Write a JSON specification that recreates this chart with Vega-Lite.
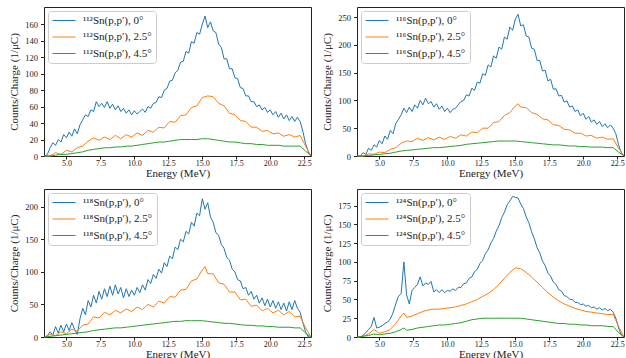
{
"$schema":"https://vega.github.io/schema/vega-lite/v6.json",
"autosize":{"type":"pad"},
"padding":{"left":8,"top":6,"right":1,"bottom":0},
"background":"white",
"config":{
"font":"Liberation Serif",
"view":{"stroke":"#222","strokeWidth":1},
"axis":{"grid":false,"domain":false,"labelFont":"Liberation Serif","labelFontSize":8.5,"labelColor":"#222","titleFont":"Liberation Serif","titleFontSize":11,"titleFontWeight":"normal","titleColor":"#222","tickColor":"#222","tickSize":3.5},
"axisY":{"titlePadding":5,"labelPadding":3},
"axisX":{"titlePadding":0,"labelPadding":0,"tickSize":3,"labelFontSize":8},
"legend":{"orient":"top-left","offset":4,"padding":4,"strokeColor":"#cccccc","fillColor":"white","cornerRadius":3,"symbolType":"M-1,0H3.6","symbolSize":100,"symbolStrokeWidth":1.5,"labelFont":"Liberation Serif","labelFontSize":11,"labelColor":"#222","rowPadding":4.5,"labelOffset":20,"title":null},
"line":{"strokeWidth":1,"clip":true}
},
"datasets":{
"a":[
{"e":3.4,"s":"0°","y":0},{"e":3.6,"s":"0°","y":2},{"e":3.8,"s":"0°","y":10},{"e":4.0,"s":"0°","y":16},{"e":4.2,"s":"0°","y":13},{"e":4.4,"s":"0°","y":20},{"e":4.6,"s":"0°","y":17},{"e":4.8,"s":"0°","y":26},{"e":5.0,"s":"0°","y":22},{"e":5.2,"s":"0°","y":29},{"e":5.4,"s":"0°","y":24},{"e":5.6,"s":"0°","y":33},{"e":5.8,"s":"0°","y":27},{"e":6.0,"s":"0°","y":38},{"e":6.2,"s":"0°","y":44},{"e":6.4,"s":"0°","y":50},{"e":6.6,"s":"0°","y":48},{"e":6.8,"s":"0°","y":56},{"e":7.0,"s":"0°","y":54},{"e":7.2,"s":"0°","y":66},{"e":7.4,"s":"0°","y":60},{"e":7.6,"s":"0°","y":64},{"e":7.8,"s":"0°","y":59},{"e":8.0,"s":"0°","y":66},{"e":8.2,"s":"0°","y":58},{"e":8.4,"s":"0°","y":63},{"e":8.6,"s":"0°","y":56},{"e":8.8,"s":"0°","y":61},{"e":9.0,"s":"0°","y":54},{"e":9.2,"s":"0°","y":58},{"e":9.4,"s":"0°","y":52},{"e":9.6,"s":"0°","y":56},{"e":9.8,"s":"0°","y":50},{"e":10.0,"s":"0°","y":55},{"e":10.2,"s":"0°","y":51},{"e":10.4,"s":"0°","y":54},{"e":10.6,"s":"0°","y":57},{"e":10.8,"s":"0°","y":53},{"e":11.0,"s":"0°","y":60},{"e":11.2,"s":"0°","y":58},{"e":11.4,"s":"0°","y":64},{"e":11.6,"s":"0°","y":65},{"e":11.8,"s":"0°","y":72},{"e":12.0,"s":"0°","y":71},{"e":12.2,"s":"0°","y":80},{"e":12.4,"s":"0°","y":82},{"e":12.6,"s":"0°","y":91},{"e":12.8,"s":"0°","y":92},{"e":13.0,"s":"0°","y":101},{"e":13.2,"s":"0°","y":104},{"e":13.4,"s":"0°","y":114},{"e":13.6,"s":"0°","y":115},{"e":13.8,"s":"0°","y":127},{"e":14.0,"s":"0°","y":125},{"e":14.2,"s":"0°","y":139},{"e":14.4,"s":"0°","y":137},{"e":14.6,"s":"0°","y":150},{"e":14.8,"s":"0°","y":148},{"e":15.0,"s":"0°","y":160},{"e":15.2,"s":"0°","y":170},{"e":15.4,"s":"0°","y":156},{"e":15.6,"s":"0°","y":163},{"e":15.8,"s":"0°","y":152},{"e":16.0,"s":"0°","y":150},{"e":16.2,"s":"0°","y":136},{"e":16.4,"s":"0°","y":132},{"e":16.6,"s":"0°","y":118},{"e":16.8,"s":"0°","y":118},{"e":17.0,"s":"0°","y":106},{"e":17.2,"s":"0°","y":106},{"e":17.4,"s":"0°","y":95},{"e":17.6,"s":"0°","y":94},{"e":17.8,"s":"0°","y":83},{"e":18.0,"s":"0°","y":82},{"e":18.2,"s":"0°","y":73},{"e":18.4,"s":"0°","y":73},{"e":18.6,"s":"0°","y":66},{"e":18.8,"s":"0°","y":66},{"e":19.0,"s":"0°","y":60},{"e":19.2,"s":"0°","y":62},{"e":19.4,"s":"0°","y":56},{"e":19.6,"s":"0°","y":59},{"e":19.8,"s":"0°","y":53},{"e":20.0,"s":"0°","y":56},{"e":20.2,"s":"0°","y":50},{"e":20.4,"s":"0°","y":54},{"e":20.6,"s":"0°","y":47},{"e":20.8,"s":"0°","y":52},{"e":21.0,"s":"0°","y":45},{"e":21.2,"s":"0°","y":50},{"e":21.4,"s":"0°","y":43},{"e":21.6,"s":"0°","y":48},{"e":21.8,"s":"0°","y":42},{"e":22.0,"s":"0°","y":47},{"e":22.2,"s":"0°","y":42},{"e":22.4,"s":"0°","y":30},{"e":22.6,"s":"0°","y":15},{"e":22.8,"s":"0°","y":5},{"e":23.0,"s":"0°","y":0},
{"e":3.4,"s":"2.5°","y":0},{"e":3.8,"s":"2.5°","y":0},{"e":4.2,"s":"2.5°","y":4},{"e":4.6,"s":"2.5°","y":2},{"e":5.0,"s":"2.5°","y":7},{"e":5.4,"s":"2.5°","y":5},{"e":5.8,"s":"2.5°","y":10},{"e":6.2,"s":"2.5°","y":12},{"e":6.6,"s":"2.5°","y":18},{"e":7.0,"s":"2.5°","y":22},{"e":7.4,"s":"2.5°","y":19},{"e":7.8,"s":"2.5°","y":23},{"e":8.2,"s":"2.5°","y":20},{"e":8.6,"s":"2.5°","y":25},{"e":9.0,"s":"2.5°","y":21},{"e":9.4,"s":"2.5°","y":26},{"e":9.8,"s":"2.5°","y":23},{"e":10.2,"s":"2.5°","y":28},{"e":10.6,"s":"2.5°","y":25},{"e":11.0,"s":"2.5°","y":31},{"e":11.4,"s":"2.5°","y":29},{"e":11.8,"s":"2.5°","y":35},{"e":12.2,"s":"2.5°","y":34},{"e":12.6,"s":"2.5°","y":42},{"e":13.0,"s":"2.5°","y":41},{"e":13.4,"s":"2.5°","y":49},{"e":13.8,"s":"2.5°","y":50},{"e":14.2,"s":"2.5°","y":59},{"e":14.6,"s":"2.5°","y":61},{"e":15.0,"s":"2.5°","y":71},{"e":15.4,"s":"2.5°","y":73},{"e":15.8,"s":"2.5°","y":72},{"e":16.2,"s":"2.5°","y":64},{"e":16.6,"s":"2.5°","y":61},{"e":17.0,"s":"2.5°","y":52},{"e":17.4,"s":"2.5°","y":50},{"e":17.8,"s":"2.5°","y":43},{"e":18.2,"s":"2.5°","y":42},{"e":18.6,"s":"2.5°","y":35},{"e":19.0,"s":"2.5°","y":35},{"e":19.4,"s":"2.5°","y":30},{"e":19.8,"s":"2.5°","y":31},{"e":20.2,"s":"2.5°","y":27},{"e":20.6,"s":"2.5°","y":28},{"e":21.0,"s":"2.5°","y":24},{"e":21.4,"s":"2.5°","y":26},{"e":21.8,"s":"2.5°","y":23},{"e":22.2,"s":"2.5°","y":25},{"e":22.6,"s":"2.5°","y":12},{"e":23.0,"s":"2.5°","y":0},
{"e":3.4,"s":"4.5°","y":0},{"e":3.8,"s":"4.5°","y":0},{"e":4.2,"s":"4.5°","y":1},{"e":4.6,"s":"4.5°","y":2},{"e":5.0,"s":"4.5°","y":2},{"e":5.4,"s":"4.5°","y":3},{"e":5.8,"s":"4.5°","y":4},{"e":6.2,"s":"4.5°","y":5},{"e":6.6,"s":"4.5°","y":7},{"e":7.0,"s":"4.5°","y":8},{"e":7.4,"s":"4.5°","y":9},{"e":7.8,"s":"4.5°","y":10},{"e":8.2,"s":"4.5°","y":10},{"e":8.6,"s":"4.5°","y":11},{"e":9.0,"s":"4.5°","y":11},{"e":9.4,"s":"4.5°","y":12},{"e":9.8,"s":"4.5°","y":12},{"e":10.2,"s":"4.5°","y":13},{"e":10.6,"s":"4.5°","y":14},{"e":11.0,"s":"4.5°","y":15},{"e":11.4,"s":"4.5°","y":16},{"e":11.8,"s":"4.5°","y":17},{"e":12.2,"s":"4.5°","y":17},{"e":12.6,"s":"4.5°","y":18},{"e":13.0,"s":"4.5°","y":19},{"e":13.4,"s":"4.5°","y":20},{"e":13.8,"s":"4.5°","y":20},{"e":14.2,"s":"4.5°","y":20},{"e":14.6,"s":"4.5°","y":20},{"e":15.0,"s":"4.5°","y":21},{"e":15.4,"s":"4.5°","y":21},{"e":15.8,"s":"4.5°","y":20},{"e":16.2,"s":"4.5°","y":19},{"e":16.6,"s":"4.5°","y":18},{"e":17.0,"s":"4.5°","y":17},{"e":17.4,"s":"4.5°","y":17},{"e":17.8,"s":"4.5°","y":16},{"e":18.2,"s":"4.5°","y":15},{"e":18.6,"s":"4.5°","y":15},{"e":19.0,"s":"4.5°","y":14},{"e":19.4,"s":"4.5°","y":14},{"e":19.8,"s":"4.5°","y":13},{"e":20.2,"s":"4.5°","y":13},{"e":20.6,"s":"4.5°","y":13},{"e":21.0,"s":"4.5°","y":12},{"e":21.4,"s":"4.5°","y":12},{"e":21.8,"s":"4.5°","y":12},{"e":22.2,"s":"4.5°","y":12},{"e":22.6,"s":"4.5°","y":6},{"e":23.0,"s":"4.5°","y":0}
],
"b":[
{"e":3.4,"s":"0°","y":0},{"e":3.6,"s":"0°","y":0},{"e":3.8,"s":"0°","y":6},{"e":4.0,"s":"0°","y":3},{"e":4.2,"s":"0°","y":14},{"e":4.4,"s":"0°","y":10},{"e":4.6,"s":"0°","y":20},{"e":4.8,"s":"0°","y":16},{"e":5.0,"s":"0°","y":28},{"e":5.2,"s":"0°","y":22},{"e":5.4,"s":"0°","y":36},{"e":5.6,"s":"0°","y":30},{"e":5.8,"s":"0°","y":46},{"e":6.0,"s":"0°","y":40},{"e":6.2,"s":"0°","y":58},{"e":6.4,"s":"0°","y":66},{"e":6.6,"s":"0°","y":74},{"e":6.8,"s":"0°","y":86},{"e":7.0,"s":"0°","y":78},{"e":7.2,"s":"0°","y":88},{"e":7.4,"s":"0°","y":80},{"e":7.6,"s":"0°","y":92},{"e":7.8,"s":"0°","y":86},{"e":8.0,"s":"0°","y":100},{"e":8.2,"s":"0°","y":92},{"e":8.4,"s":"0°","y":104},{"e":8.6,"s":"0°","y":94},{"e":8.8,"s":"0°","y":98},{"e":9.0,"s":"0°","y":88},{"e":9.2,"s":"0°","y":94},{"e":9.4,"s":"0°","y":84},{"e":9.6,"s":"0°","y":90},{"e":9.8,"s":"0°","y":80},{"e":10.0,"s":"0°","y":86},{"e":10.2,"s":"0°","y":78},{"e":10.4,"s":"0°","y":84},{"e":10.6,"s":"0°","y":86},{"e":10.8,"s":"0°","y":92},{"e":11.0,"s":"0°","y":98},{"e":11.2,"s":"0°","y":100},{"e":11.4,"s":"0°","y":110},{"e":11.6,"s":"0°","y":108},{"e":11.8,"s":"0°","y":122},{"e":12.0,"s":"0°","y":118},{"e":12.2,"s":"0°","y":133},{"e":12.4,"s":"0°","y":131},{"e":12.6,"s":"0°","y":148},{"e":12.8,"s":"0°","y":145},{"e":13.0,"s":"0°","y":164},{"e":13.2,"s":"0°","y":160},{"e":13.4,"s":"0°","y":180},{"e":13.6,"s":"0°","y":176},{"e":13.8,"s":"0°","y":196},{"e":14.0,"s":"0°","y":192},{"e":14.2,"s":"0°","y":214},{"e":14.4,"s":"0°","y":210},{"e":14.6,"s":"0°","y":232},{"e":14.8,"s":"0°","y":226},{"e":15.0,"s":"0°","y":246},{"e":15.2,"s":"0°","y":255},{"e":15.4,"s":"0°","y":234},{"e":15.6,"s":"0°","y":236},{"e":15.8,"s":"0°","y":216},{"e":16.0,"s":"0°","y":214},{"e":16.2,"s":"0°","y":194},{"e":16.4,"s":"0°","y":192},{"e":16.6,"s":"0°","y":172},{"e":16.8,"s":"0°","y":172},{"e":17.0,"s":"0°","y":153},{"e":17.2,"s":"0°","y":154},{"e":17.4,"s":"0°","y":135},{"e":17.6,"s":"0°","y":138},{"e":17.8,"s":"0°","y":120},{"e":18.0,"s":"0°","y":121},{"e":18.2,"s":"0°","y":108},{"e":18.4,"s":"0°","y":109},{"e":18.6,"s":"0°","y":97},{"e":18.8,"s":"0°","y":99},{"e":19.0,"s":"0°","y":88},{"e":19.2,"s":"0°","y":90},{"e":19.4,"s":"0°","y":80},{"e":19.6,"s":"0°","y":83},{"e":19.8,"s":"0°","y":72},{"e":20.0,"s":"0°","y":77},{"e":20.2,"s":"0°","y":66},{"e":20.4,"s":"0°","y":71},{"e":20.6,"s":"0°","y":61},{"e":20.8,"s":"0°","y":65},{"e":21.0,"s":"0°","y":57},{"e":21.2,"s":"0°","y":62},{"e":21.4,"s":"0°","y":53},{"e":21.6,"s":"0°","y":58},{"e":21.8,"s":"0°","y":51},{"e":22.0,"s":"0°","y":56},{"e":22.2,"s":"0°","y":50},{"e":22.4,"s":"0°","y":40},{"e":22.6,"s":"0°","y":20},{"e":22.8,"s":"0°","y":6},{"e":23.0,"s":"0°","y":0},
{"e":3.4,"s":"2.5°","y":0},{"e":3.8,"s":"2.5°","y":0},{"e":4.2,"s":"2.5°","y":4},{"e":4.6,"s":"2.5°","y":3},{"e":5.0,"s":"2.5°","y":7},{"e":5.4,"s":"2.5°","y":6},{"e":5.8,"s":"2.5°","y":12},{"e":6.2,"s":"2.5°","y":15},{"e":6.6,"s":"2.5°","y":23},{"e":7.0,"s":"2.5°","y":27},{"e":7.4,"s":"2.5°","y":26},{"e":7.8,"s":"2.5°","y":32},{"e":8.2,"s":"2.5°","y":28},{"e":8.6,"s":"2.5°","y":33},{"e":9.0,"s":"2.5°","y":29},{"e":9.4,"s":"2.5°","y":34},{"e":9.8,"s":"2.5°","y":30},{"e":10.2,"s":"2.5°","y":35},{"e":10.6,"s":"2.5°","y":32},{"e":11.0,"s":"2.5°","y":38},{"e":11.4,"s":"2.5°","y":36},{"e":11.8,"s":"2.5°","y":43},{"e":12.2,"s":"2.5°","y":42},{"e":12.6,"s":"2.5°","y":50},{"e":13.0,"s":"2.5°","y":50},{"e":13.4,"s":"2.5°","y":60},{"e":13.8,"s":"2.5°","y":62},{"e":14.2,"s":"2.5°","y":73},{"e":14.6,"s":"2.5°","y":78},{"e":15.0,"s":"2.5°","y":90},{"e":15.2,"s":"2.5°","y":94},{"e":15.4,"s":"2.5°","y":88},{"e":15.8,"s":"2.5°","y":87},{"e":16.2,"s":"2.5°","y":78},{"e":16.6,"s":"2.5°","y":75},{"e":17.0,"s":"2.5°","y":67},{"e":17.4,"s":"2.5°","y":65},{"e":17.8,"s":"2.5°","y":56},{"e":18.2,"s":"2.5°","y":55},{"e":18.6,"s":"2.5°","y":48},{"e":19.0,"s":"2.5°","y":47},{"e":19.4,"s":"2.5°","y":41},{"e":19.8,"s":"2.5°","y":41},{"e":20.2,"s":"2.5°","y":36},{"e":20.6,"s":"2.5°","y":37},{"e":21.0,"s":"2.5°","y":32},{"e":21.4,"s":"2.5°","y":34},{"e":21.8,"s":"2.5°","y":30},{"e":22.2,"s":"2.5°","y":31},{"e":22.6,"s":"2.5°","y":14},{"e":23.0,"s":"2.5°","y":0},
{"e":3.4,"s":"4.5°","y":0},{"e":3.8,"s":"4.5°","y":0},{"e":4.2,"s":"4.5°","y":1},{"e":4.6,"s":"4.5°","y":2},{"e":5.0,"s":"4.5°","y":3},{"e":5.4,"s":"4.5°","y":4},{"e":5.8,"s":"4.5°","y":5},{"e":6.2,"s":"4.5°","y":7},{"e":6.6,"s":"4.5°","y":9},{"e":7.0,"s":"4.5°","y":10},{"e":7.4,"s":"4.5°","y":11},{"e":7.8,"s":"4.5°","y":12},{"e":8.2,"s":"4.5°","y":13},{"e":8.6,"s":"4.5°","y":14},{"e":9.0,"s":"4.5°","y":15},{"e":9.4,"s":"4.5°","y":15},{"e":9.8,"s":"4.5°","y":16},{"e":10.2,"s":"4.5°","y":17},{"e":10.6,"s":"4.5°","y":18},{"e":11.0,"s":"4.5°","y":19},{"e":11.4,"s":"4.5°","y":21},{"e":11.8,"s":"4.5°","y":22},{"e":12.2,"s":"4.5°","y":23},{"e":12.6,"s":"4.5°","y":24},{"e":13.0,"s":"4.5°","y":25},{"e":13.4,"s":"4.5°","y":26},{"e":13.8,"s":"4.5°","y":27},{"e":14.2,"s":"4.5°","y":27},{"e":14.6,"s":"4.5°","y":27},{"e":15.0,"s":"4.5°","y":27},{"e":15.4,"s":"4.5°","y":26},{"e":15.8,"s":"4.5°","y":25},{"e":16.2,"s":"4.5°","y":24},{"e":16.6,"s":"4.5°","y":23},{"e":17.0,"s":"4.5°","y":22},{"e":17.4,"s":"4.5°","y":21},{"e":17.8,"s":"4.5°","y":20},{"e":18.2,"s":"4.5°","y":20},{"e":18.6,"s":"4.5°","y":19},{"e":19.0,"s":"4.5°","y":18},{"e":19.4,"s":"4.5°","y":18},{"e":19.8,"s":"4.5°","y":17},{"e":20.2,"s":"4.5°","y":17},{"e":20.6,"s":"4.5°","y":16},{"e":21.0,"s":"4.5°","y":16},{"e":21.4,"s":"4.5°","y":16},{"e":21.8,"s":"4.5°","y":15},{"e":22.2,"s":"4.5°","y":15},{"e":22.6,"s":"4.5°","y":7},{"e":23.0,"s":"4.5°","y":0}
],
"c":[
{"e":3.4,"s":"0°","y":0},{"e":3.6,"s":"0°","y":2},{"e":3.8,"s":"0°","y":8},{"e":4.0,"s":"0°","y":3},{"e":4.2,"s":"0°","y":16},{"e":4.4,"s":"0°","y":6},{"e":4.6,"s":"0°","y":18},{"e":4.8,"s":"0°","y":8},{"e":5.0,"s":"0°","y":20},{"e":5.2,"s":"0°","y":10},{"e":5.4,"s":"0°","y":22},{"e":5.6,"s":"0°","y":12},{"e":5.8,"s":"0°","y":4},{"e":6.0,"s":"0°","y":28},{"e":6.2,"s":"0°","y":44},{"e":6.4,"s":"0°","y":34},{"e":6.6,"s":"0°","y":56},{"e":6.8,"s":"0°","y":46},{"e":7.0,"s":"0°","y":64},{"e":7.2,"s":"0°","y":52},{"e":7.4,"s":"0°","y":70},{"e":7.6,"s":"0°","y":58},{"e":7.8,"s":"0°","y":74},{"e":8.0,"s":"0°","y":62},{"e":8.2,"s":"0°","y":78},{"e":8.4,"s":"0°","y":64},{"e":8.6,"s":"0°","y":80},{"e":8.8,"s":"0°","y":66},{"e":9.0,"s":"0°","y":76},{"e":9.2,"s":"0°","y":60},{"e":9.4,"s":"0°","y":74},{"e":9.6,"s":"0°","y":62},{"e":9.8,"s":"0°","y":72},{"e":10.0,"s":"0°","y":64},{"e":10.2,"s":"0°","y":76},{"e":10.4,"s":"0°","y":68},{"e":10.6,"s":"0°","y":80},{"e":10.8,"s":"0°","y":72},{"e":11.0,"s":"0°","y":88},{"e":11.2,"s":"0°","y":82},{"e":11.4,"s":"0°","y":96},{"e":11.6,"s":"0°","y":90},{"e":11.8,"s":"0°","y":104},{"e":12.0,"s":"0°","y":98},{"e":12.2,"s":"0°","y":114},{"e":12.4,"s":"0°","y":108},{"e":12.6,"s":"0°","y":124},{"e":12.8,"s":"0°","y":120},{"e":13.0,"s":"0°","y":138},{"e":13.2,"s":"0°","y":134},{"e":13.4,"s":"0°","y":150},{"e":13.6,"s":"0°","y":146},{"e":13.8,"s":"0°","y":162},{"e":14.0,"s":"0°","y":158},{"e":14.2,"s":"0°","y":176},{"e":14.4,"s":"0°","y":170},{"e":14.6,"s":"0°","y":190},{"e":14.8,"s":"0°","y":186},{"e":15.0,"s":"0°","y":212},{"e":15.2,"s":"0°","y":196},{"e":15.4,"s":"0°","y":206},{"e":15.6,"s":"0°","y":184},{"e":15.8,"s":"0°","y":176},{"e":16.0,"s":"0°","y":160},{"e":16.2,"s":"0°","y":156},{"e":16.4,"s":"0°","y":142},{"e":16.6,"s":"0°","y":136},{"e":16.8,"s":"0°","y":122},{"e":17.0,"s":"0°","y":118},{"e":17.2,"s":"0°","y":104},{"e":17.4,"s":"0°","y":100},{"e":17.6,"s":"0°","y":88},{"e":17.8,"s":"0°","y":86},{"e":18.0,"s":"0°","y":74},{"e":18.2,"s":"0°","y":76},{"e":18.4,"s":"0°","y":64},{"e":18.6,"s":"0°","y":70},{"e":18.8,"s":"0°","y":58},{"e":19.0,"s":"0°","y":64},{"e":19.2,"s":"0°","y":52},{"e":19.4,"s":"0°","y":60},{"e":19.6,"s":"0°","y":48},{"e":19.8,"s":"0°","y":58},{"e":20.0,"s":"0°","y":46},{"e":20.2,"s":"0°","y":56},{"e":20.4,"s":"0°","y":44},{"e":20.6,"s":"0°","y":54},{"e":20.8,"s":"0°","y":42},{"e":21.0,"s":"0°","y":52},{"e":21.2,"s":"0°","y":40},{"e":21.4,"s":"0°","y":54},{"e":21.6,"s":"0°","y":42},{"e":21.8,"s":"0°","y":56},{"e":22.0,"s":"0°","y":44},{"e":22.2,"s":"0°","y":38},{"e":22.4,"s":"0°","y":22},{"e":22.6,"s":"0°","y":8},{"e":22.8,"s":"0°","y":0},{"e":23.0,"s":"0°","y":0},
{"e":3.4,"s":"2.5°","y":0},{"e":3.8,"s":"2.5°","y":4},{"e":4.2,"s":"2.5°","y":2},{"e":4.6,"s":"2.5°","y":8},{"e":5.0,"s":"2.5°","y":5},{"e":5.4,"s":"2.5°","y":12},{"e":5.8,"s":"2.5°","y":9},{"e":6.2,"s":"2.5°","y":18},{"e":6.6,"s":"2.5°","y":20},{"e":7.0,"s":"2.5°","y":31},{"e":7.4,"s":"2.5°","y":29},{"e":7.8,"s":"2.5°","y":38},{"e":8.2,"s":"2.5°","y":34},{"e":8.6,"s":"2.5°","y":41},{"e":9.0,"s":"2.5°","y":37},{"e":9.4,"s":"2.5°","y":43},{"e":9.8,"s":"2.5°","y":39},{"e":10.2,"s":"2.5°","y":46},{"e":10.6,"s":"2.5°","y":42},{"e":11.0,"s":"2.5°","y":50},{"e":11.4,"s":"2.5°","y":46},{"e":11.8,"s":"2.5°","y":55},{"e":12.2,"s":"2.5°","y":52},{"e":12.6,"s":"2.5°","y":62},{"e":13.0,"s":"2.5°","y":61},{"e":13.4,"s":"2.5°","y":72},{"e":13.8,"s":"2.5°","y":73},{"e":14.2,"s":"2.5°","y":86},{"e":14.6,"s":"2.5°","y":89},{"e":15.0,"s":"2.5°","y":103},{"e":15.2,"s":"2.5°","y":108},{"e":15.4,"s":"2.5°","y":97},{"e":15.8,"s":"2.5°","y":97},{"e":16.2,"s":"2.5°","y":83},{"e":16.6,"s":"2.5°","y":81},{"e":17.0,"s":"2.5°","y":69},{"e":17.4,"s":"2.5°","y":69},{"e":17.8,"s":"2.5°","y":57},{"e":18.2,"s":"2.5°","y":58},{"e":18.6,"s":"2.5°","y":47},{"e":19.0,"s":"2.5°","y":49},{"e":19.4,"s":"2.5°","y":40},{"e":19.8,"s":"2.5°","y":44},{"e":20.2,"s":"2.5°","y":37},{"e":20.6,"s":"2.5°","y":41},{"e":21.0,"s":"2.5°","y":34},{"e":21.4,"s":"2.5°","y":39},{"e":21.8,"s":"2.5°","y":31},{"e":22.2,"s":"2.5°","y":32},{"e":22.6,"s":"2.5°","y":14},{"e":23.0,"s":"2.5°","y":0},
{"e":3.4,"s":"4.5°","y":0},{"e":3.8,"s":"4.5°","y":1},{"e":4.2,"s":"4.5°","y":2},{"e":4.6,"s":"4.5°","y":3},{"e":5.0,"s":"4.5°","y":4},{"e":5.4,"s":"4.5°","y":5},{"e":5.8,"s":"4.5°","y":6},{"e":6.2,"s":"4.5°","y":7},{"e":6.6,"s":"4.5°","y":8},{"e":7.0,"s":"4.5°","y":10},{"e":7.4,"s":"4.5°","y":11},{"e":7.8,"s":"4.5°","y":12},{"e":8.2,"s":"4.5°","y":13},{"e":8.6,"s":"4.5°","y":14},{"e":9.0,"s":"4.5°","y":14},{"e":9.4,"s":"4.5°","y":15},{"e":9.8,"s":"4.5°","y":16},{"e":10.2,"s":"4.5°","y":17},{"e":10.6,"s":"4.5°","y":18},{"e":11.0,"s":"4.5°","y":19},{"e":11.4,"s":"4.5°","y":20},{"e":11.8,"s":"4.5°","y":21},{"e":12.2,"s":"4.5°","y":22},{"e":12.6,"s":"4.5°","y":23},{"e":13.0,"s":"4.5°","y":24},{"e":13.4,"s":"4.5°","y":24},{"e":13.8,"s":"4.5°","y":25},{"e":14.2,"s":"4.5°","y":25},{"e":14.6,"s":"4.5°","y":25},{"e":15.0,"s":"4.5°","y":25},{"e":15.4,"s":"4.5°","y":24},{"e":15.8,"s":"4.5°","y":23},{"e":16.2,"s":"4.5°","y":22},{"e":16.6,"s":"4.5°","y":21},{"e":17.0,"s":"4.5°","y":21},{"e":17.4,"s":"4.5°","y":20},{"e":17.8,"s":"4.5°","y":19},{"e":18.2,"s":"4.5°","y":18},{"e":18.6,"s":"4.5°","y":18},{"e":19.0,"s":"4.5°","y":17},{"e":19.4,"s":"4.5°","y":17},{"e":19.8,"s":"4.5°","y":16},{"e":20.2,"s":"4.5°","y":16},{"e":20.6,"s":"4.5°","y":15},{"e":21.0,"s":"4.5°","y":15},{"e":21.4,"s":"4.5°","y":15},{"e":21.8,"s":"4.5°","y":14},{"e":22.2,"s":"4.5°","y":14},{"e":22.6,"s":"4.5°","y":6},{"e":23.0,"s":"4.5°","y":0}
],
"d":[
{"e":3.4,"s":"0°","y":0},{"e":3.6,"s":"0°","y":0},{"e":3.8,"s":"0°","y":2},{"e":4.0,"s":"0°","y":6},{"e":4.2,"s":"0°","y":10},{"e":4.4,"s":"0°","y":14},{"e":4.6,"s":"0°","y":26},{"e":4.8,"s":"0°","y":12},{"e":5.0,"s":"0°","y":13},{"e":5.2,"s":"0°","y":15},{"e":5.4,"s":"0°","y":18},{"e":5.6,"s":"0°","y":20},{"e":5.8,"s":"0°","y":24},{"e":6.0,"s":"0°","y":32},{"e":6.2,"s":"0°","y":44},{"e":6.4,"s":"0°","y":54},{"e":6.6,"s":"0°","y":58},{"e":6.8,"s":"0°","y":100},{"e":7.0,"s":"0°","y":56},{"e":7.2,"s":"0°","y":44},{"e":7.4,"s":"0°","y":62},{"e":7.6,"s":"0°","y":66},{"e":7.8,"s":"0°","y":70},{"e":8.0,"s":"0°","y":80},{"e":8.2,"s":"0°","y":68},{"e":8.4,"s":"0°","y":72},{"e":8.6,"s":"0°","y":70},{"e":8.8,"s":"0°","y":74},{"e":9.0,"s":"0°","y":60},{"e":9.2,"s":"0°","y":63},{"e":9.4,"s":"0°","y":59},{"e":9.6,"s":"0°","y":63},{"e":9.8,"s":"0°","y":59},{"e":10.0,"s":"0°","y":62},{"e":10.2,"s":"0°","y":61},{"e":10.4,"s":"0°","y":64},{"e":10.6,"s":"0°","y":62},{"e":10.8,"s":"0°","y":66},{"e":11.0,"s":"0°","y":66},{"e":11.2,"s":"0°","y":71},{"e":11.4,"s":"0°","y":72},{"e":11.6,"s":"0°","y":78},{"e":11.8,"s":"0°","y":80},{"e":12.0,"s":"0°","y":87},{"e":12.2,"s":"0°","y":90},{"e":12.4,"s":"0°","y":98},{"e":12.6,"s":"0°","y":102},{"e":12.8,"s":"0°","y":111},{"e":13.0,"s":"0°","y":116},{"e":13.2,"s":"0°","y":125},{"e":13.4,"s":"0°","y":131},{"e":13.6,"s":"0°","y":141},{"e":13.8,"s":"0°","y":148},{"e":14.0,"s":"0°","y":159},{"e":14.2,"s":"0°","y":166},{"e":14.4,"s":"0°","y":176},{"e":14.6,"s":"0°","y":181},{"e":14.8,"s":"0°","y":187},{"e":15.0,"s":"0°","y":186},{"e":15.2,"s":"0°","y":185},{"e":15.4,"s":"0°","y":177},{"e":15.6,"s":"0°","y":171},{"e":15.8,"s":"0°","y":160},{"e":16.0,"s":"0°","y":152},{"e":16.2,"s":"0°","y":140},{"e":16.4,"s":"0°","y":131},{"e":16.6,"s":"0°","y":119},{"e":16.8,"s":"0°","y":112},{"e":17.0,"s":"0°","y":101},{"e":17.2,"s":"0°","y":95},{"e":17.4,"s":"0°","y":85},{"e":17.6,"s":"0°","y":81},{"e":17.8,"s":"0°","y":73},{"e":18.0,"s":"0°","y":70},{"e":18.2,"s":"0°","y":63},{"e":18.4,"s":"0°","y":61},{"e":18.6,"s":"0°","y":55},{"e":18.8,"s":"0°","y":54},{"e":19.0,"s":"0°","y":50},{"e":19.2,"s":"0°","y":50},{"e":19.4,"s":"0°","y":46},{"e":19.6,"s":"0°","y":46},{"e":19.8,"s":"0°","y":43},{"e":20.0,"s":"0°","y":44},{"e":20.2,"s":"0°","y":41},{"e":20.4,"s":"0°","y":42},{"e":20.6,"s":"0°","y":39},{"e":20.8,"s":"0°","y":40},{"e":21.0,"s":"0°","y":37},{"e":21.2,"s":"0°","y":39},{"e":21.4,"s":"0°","y":36},{"e":21.6,"s":"0°","y":38},{"e":21.8,"s":"0°","y":35},{"e":22.0,"s":"0°","y":37},{"e":22.2,"s":"0°","y":33},{"e":22.4,"s":"0°","y":25},{"e":22.6,"s":"0°","y":12},{"e":22.8,"s":"0°","y":3},{"e":23.0,"s":"0°","y":0},
{"e":3.4,"s":"2.5°","y":0},{"e":3.8,"s":"2.5°","y":1},{"e":4.2,"s":"2.5°","y":4},{"e":4.6,"s":"2.5°","y":10},{"e":5.0,"s":"2.5°","y":5},{"e":5.4,"s":"2.5°","y":7},{"e":5.8,"s":"2.5°","y":10},{"e":6.2,"s":"2.5°","y":18},{"e":6.6,"s":"2.5°","y":28},{"e":6.8,"s":"2.5°","y":32},{"e":7.0,"s":"2.5°","y":26},{"e":7.4,"s":"2.5°","y":28},{"e":7.8,"s":"2.5°","y":31},{"e":8.2,"s":"2.5°","y":34},{"e":8.6,"s":"2.5°","y":36},{"e":9.0,"s":"2.5°","y":37},{"e":9.4,"s":"2.5°","y":37},{"e":9.8,"s":"2.5°","y":38},{"e":10.2,"s":"2.5°","y":39},{"e":10.6,"s":"2.5°","y":40},{"e":11.0,"s":"2.5°","y":42},{"e":11.4,"s":"2.5°","y":44},{"e":11.8,"s":"2.5°","y":47},{"e":12.2,"s":"2.5°","y":50},{"e":12.6,"s":"2.5°","y":54},{"e":13.0,"s":"2.5°","y":58},{"e":13.4,"s":"2.5°","y":63},{"e":13.8,"s":"2.5°","y":70},{"e":14.2,"s":"2.5°","y":78},{"e":14.6,"s":"2.5°","y":86},{"e":15.0,"s":"2.5°","y":92},{"e":15.4,"s":"2.5°","y":91},{"e":15.8,"s":"2.5°","y":86},{"e":16.2,"s":"2.5°","y":80},{"e":16.6,"s":"2.5°","y":73},{"e":17.0,"s":"2.5°","y":66},{"e":17.4,"s":"2.5°","y":59},{"e":17.8,"s":"2.5°","y":53},{"e":18.2,"s":"2.5°","y":48},{"e":18.6,"s":"2.5°","y":44},{"e":19.0,"s":"2.5°","y":41},{"e":19.4,"s":"2.5°","y":38},{"e":19.8,"s":"2.5°","y":36},{"e":20.2,"s":"2.5°","y":34},{"e":20.6,"s":"2.5°","y":33},{"e":21.0,"s":"2.5°","y":32},{"e":21.4,"s":"2.5°","y":31},{"e":21.8,"s":"2.5°","y":30},{"e":22.2,"s":"2.5°","y":30},{"e":22.6,"s":"2.5°","y":14},{"e":23.0,"s":"2.5°","y":0},
{"e":3.4,"s":"4.5°","y":0},{"e":3.8,"s":"4.5°","y":1},{"e":4.2,"s":"4.5°","y":2},{"e":4.6,"s":"4.5°","y":4},{"e":5.0,"s":"4.5°","y":3},{"e":5.4,"s":"4.5°","y":4},{"e":5.8,"s":"4.5°","y":5},{"e":6.2,"s":"4.5°","y":7},{"e":6.6,"s":"4.5°","y":10},{"e":6.8,"s":"4.5°","y":12},{"e":7.0,"s":"4.5°","y":9},{"e":7.4,"s":"4.5°","y":10},{"e":7.8,"s":"4.5°","y":12},{"e":8.2,"s":"4.5°","y":13},{"e":8.6,"s":"4.5°","y":14},{"e":9.0,"s":"4.5°","y":15},{"e":9.4,"s":"4.5°","y":16},{"e":9.8,"s":"4.5°","y":16},{"e":10.2,"s":"4.5°","y":17},{"e":10.6,"s":"4.5°","y":18},{"e":11.0,"s":"4.5°","y":19},{"e":11.4,"s":"4.5°","y":21},{"e":11.8,"s":"4.5°","y":23},{"e":12.2,"s":"4.5°","y":24},{"e":12.6,"s":"4.5°","y":25},{"e":13.0,"s":"4.5°","y":25},{"e":13.4,"s":"4.5°","y":25},{"e":13.8,"s":"4.5°","y":25},{"e":14.2,"s":"4.5°","y":25},{"e":14.6,"s":"4.5°","y":25},{"e":15.0,"s":"4.5°","y":25},{"e":15.4,"s":"4.5°","y":25},{"e":15.8,"s":"4.5°","y":24},{"e":16.2,"s":"4.5°","y":23},{"e":16.6,"s":"4.5°","y":22},{"e":17.0,"s":"4.5°","y":21},{"e":17.4,"s":"4.5°","y":20},{"e":17.8,"s":"4.5°","y":19},{"e":18.2,"s":"4.5°","y":18},{"e":18.6,"s":"4.5°","y":18},{"e":19.0,"s":"4.5°","y":17},{"e":19.4,"s":"4.5°","y":17},{"e":19.8,"s":"4.5°","y":16},{"e":20.2,"s":"4.5°","y":16},{"e":20.6,"s":"4.5°","y":15},{"e":21.0,"s":"4.5°","y":15},{"e":21.4,"s":"4.5°","y":15},{"e":21.8,"s":"4.5°","y":14},{"e":22.2,"s":"4.5°","y":14},{"e":22.6,"s":"4.5°","y":6},{"e":23.0,"s":"4.5°","y":0}
]
},
"columns":2,
"spacing":{"row":33,"column":46},
"bounds":"flush",
"resolve":{"scale":{"color":"independent","y":"independent","x":"independent"},"legend":{"color":"independent"},"axis":{"x":"independent","y":"independent"}},
"concat":[
{"width":267,"height":149,"data":{"name":"a"},"mark":{"type":"line"},
"encoding":{
"x":{"field":"e","type":"quantitative","scale":{"domain":[3.35,23.0],"nice":false,"zero":false},"axis":{"values":[5,7.5,10,12.5,15,17.5,20,22.5],"format":".1f","title":"Energy (MeV)"}},
"y":{"field":"y","type":"quantitative","scale":{"domain":[0,181],"nice":false},"axis":{"values":[0,20,40,60,80,100,120,140,160],"title":"Counts/Charge (1/μC)"}},
"color":{"field":"s","type":"nominal","scale":{"domain":["0°","2.5°","4.5°"],"range":["#1f77b4","#ff7f0e","#2ca02c"]},"legend":{"labelExpr":"'¹¹²Sn(p,p′), ' + datum.label"}}}},
{"width":267,"height":149,"data":{"name":"b"},"mark":{"type":"line"},
"encoding":{
"x":{"field":"e","type":"quantitative","scale":{"domain":[3.35,23.0],"nice":false,"zero":false},"axis":{"values":[5,7.5,10,12.5,15,17.5,20,22.5],"format":".1f","title":"Energy (MeV)"}},
"y":{"field":"y","type":"quantitative","scale":{"domain":[0,268],"nice":false},"axis":{"values":[0,50,100,150,200,250],"title":"Counts/Charge (1/μC)"}},
"color":{"field":"s","type":"nominal","scale":{"domain":["0°","2.5°","4.5°"],"range":["#1f77b4","#ff7f0e","#2ca02c"]},"legend":{"labelExpr":"'¹¹⁶Sn(p,p′), ' + datum.label"}}}},
{"width":267,"height":148,"data":{"name":"c"},"mark":{"type":"line"},
"encoding":{
"x":{"field":"e","type":"quantitative","scale":{"domain":[3.35,23.0],"nice":false,"zero":false},"axis":{"values":[5,7.5,10,12.5,15,17.5,20,22.5],"format":".1f","title":"Energy (MeV)"}},
"y":{"field":"y","type":"quantitative","scale":{"domain":[0,227],"nice":false},"axis":{"values":[0,50,100,150,200],"title":"Counts/Charge (1/μC)"}},
"color":{"field":"s","type":"nominal","scale":{"domain":["0°","2.5°","4.5°"],"range":["#1f77b4","#ff7f0e","#2ca02c"]},"legend":{"labelExpr":"'¹¹⁸Sn(p,p′), ' + datum.label"}}}},
{"width":267,"height":148,"data":{"name":"d"},"mark":{"type":"line"},
"encoding":{
"x":{"field":"e","type":"quantitative","scale":{"domain":[3.35,23.0],"nice":false,"zero":false},"axis":{"values":[5,7.5,10,12.5,15,17.5,20,22.5],"format":".1f","title":"Energy (MeV)"}},
"y":{"field":"y","type":"quantitative","scale":{"domain":[0,197],"nice":false},"axis":{"values":[0,25,50,75,100,125,150,175],"title":"Counts/Charge (1/μC)"}},
"color":{"field":"s","type":"nominal","scale":{"domain":["0°","2.5°","4.5°"],"range":["#1f77b4","#ff7f0e","#2ca02c"]},"legend":{"labelExpr":"'¹²⁴Sn(p,p′), ' + datum.label"}}}}
]
}
